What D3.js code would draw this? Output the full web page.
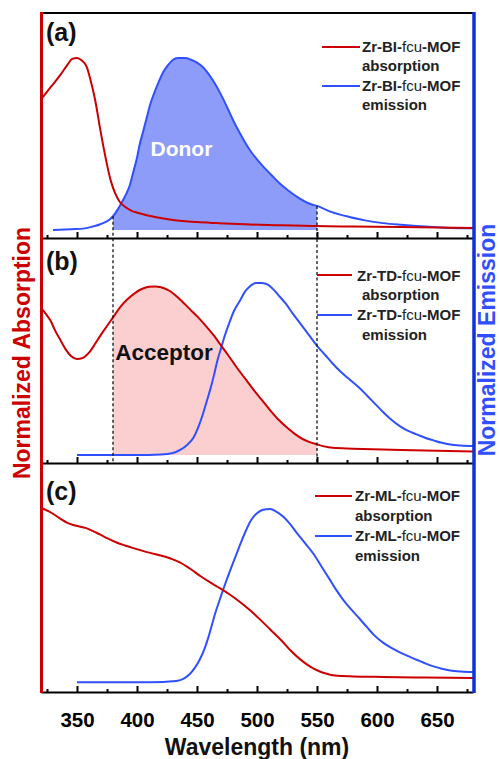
<!DOCTYPE html>
<html>
<head>
<meta charset="utf-8">
<script src="https://cdn.jsdelivr.net/npm/d3@7"></script>
<style>
  html, body { margin: 0; padding: 0; background: #fff; }
  svg { display: block; font-family: "Liberation Sans", Arial, sans-serif; }
</style>
</head>
<body>
<svg id="chart" width="500" height="759"></svg>
<script>
// Wavelength axis ticks (nm)
const majorTicks = [350, 400, 450, 500, 550, 600, 650];
const minorTicks = [325, 375, 425, 475, 525, 575, 625, 675];
const overlapRange = [380, 550];

// Linker names for the three MOFs
const linkers = ["BI", "TD", "ML"];
const panelTags = ["(a)", "(b)", "(c)"];

// Normalized spectra as [wavelength (nm), intensity]
const biAbsorption = [[320,0.76],[328,0.83],[336,0.90],[342,0.96],[346,0.995],[350,1.0],[354,0.985],[358,0.95],[361,0.88],[365,0.76],[370,0.56],[375,0.38],[378,0.29],[382,0.21],[386,0.16],[390,0.135],[396,0.11],[402,0.097],[415,0.075],[430,0.058],[450,0.046],[467,0.04],[490,0.033],[520,0.028],[547,0.023],[580,0.02],[620,0.017],[650,0.014],[680,0.012]];
const biEmission = [[330,0.0],[345,0.005],[355,0.008],[363,0.02],[370,0.035],[377,0.06],[380,0.08],[384,0.12],[388,0.17],[391,0.21],[394,0.26],[397,0.34],[400,0.42],[402,0.49],[405,0.57],[408,0.65],[411,0.73],[414,0.79],[418,0.86],[422,0.92],[426,0.96],[430,0.99],[434,1.0],[440,1.0],[445,0.99],[450,0.973],[455,0.946],[458,0.922],[461,0.893],[465,0.85],[469,0.80],[473,0.745],[477,0.685],[481,0.625],[486,0.56],[490,0.51],[494,0.465],[500,0.41],[505,0.37],[512,0.32],[519,0.27],[526,0.23],[533,0.195],[540,0.165],[545,0.15],[550,0.14],[560,0.11],[570,0.088],[577,0.076],[590,0.056],[605,0.04],[620,0.03],[633,0.023],[647,0.017],[661,0.012],[680,0.01]];

const tdAbsorption = [[320,0.855],[324,0.82],[328,0.78],[332,0.72],[336,0.67],[341,0.61],[345,0.575],[350,0.558],[355,0.565],[360,0.595],[365,0.645],[370,0.70],[375,0.75],[380,0.80],[386,0.86],[392,0.905],[398,0.94],[404,0.965],[410,0.978],[415,0.98],[420,0.975],[427,0.955],[435,0.91],[444,0.848],[451,0.80],[458,0.745],[464,0.695],[469,0.647],[476,0.58],[483,0.51],[490,0.445],[497,0.38],[504,0.32],[511,0.26],[518,0.205],[525,0.16],[532,0.12],[538,0.093],[544,0.075],[550,0.062],[556,0.05],[563,0.042],[580,0.037],[620,0.029],[680,0.02]];
const tdEmission = [[350,0.0],[380,0.0],[400,0.0],[420,0.003],[430,0.012],[436,0.03],[442,0.06],[447,0.10],[451,0.16],[455,0.24],[458,0.31],[461,0.38],[464,0.46],[467,0.55],[470,0.62],[473,0.69],[477,0.77],[481,0.84],[486,0.90],[490,0.95],[494,0.98],[499,1.0],[504,1.0],[509,0.99],[514,0.96],[519,0.92],[524,0.88],[530,0.82],[536,0.765],[543,0.70],[550,0.635],[557,0.58],[563,0.532],[570,0.482],[577,0.44],[585,0.392],[592,0.343],[599,0.293],[605,0.25],[612,0.205],[619,0.168],[626,0.14],[633,0.12],[640,0.10],[647,0.085],[654,0.071],[661,0.061],[670,0.055],[680,0.052]];

const mlAbsorption = [[320,1.0],[327,0.98],[336,0.94],[342,0.915],[347,0.903],[352,0.895],[357,0.887],[362,0.873],[369,0.85],[376,0.826],[383,0.804],[390,0.787],[397,0.772],[404,0.758],[411,0.745],[418,0.733],[425,0.72],[431,0.705],[436,0.69],[445,0.652],[453,0.612],[461,0.577],[469,0.545],[477,0.51],[485,0.47],[494,0.42],[502,0.37],[511,0.31],[520,0.25],[528,0.19],[536,0.14],[544,0.10],[550,0.078],[558,0.058],[565,0.048],[580,0.043],[605,0.04],[640,0.037],[680,0.034]];
const mlEmission = [[350,0.01],[400,0.01],[422,0.012],[430,0.015],[436,0.022],[440,0.035],[444,0.057],[448,0.09],[452,0.135],[456,0.195],[459,0.255],[462,0.325],[465,0.398],[469,0.48],[472,0.54],[475,0.597],[479,0.67],[483,0.74],[487,0.81],[491,0.875],[495,0.93],[500,0.97],[505,0.99],[511,0.995],[516,0.98],[522,0.95],[528,0.905],[533,0.86],[540,0.80],[547,0.74],[554,0.665],[560,0.60],[566,0.535],[572,0.477],[577,0.435],[585,0.375],[592,0.32],[598,0.275],[605,0.235],[612,0.205],[619,0.18],[626,0.158],[633,0.138],[640,0.118],[647,0.10],[654,0.087],[661,0.077],[670,0.071],[680,0.068]];

const absorptionSeries = [biAbsorption, tdAbsorption, mlAbsorption];
const emissionSeries = [biEmission, tdEmission, mlEmission];

// ---- layout ----
const RED = "#cc0000", BLUE = "#3050ff", AXIS_BLUE = "#1030d8";
const x = d3.scaleLinear().domain([320, 680]).range([41, 473]);
const panels = [
  { top: 13,  bottom: 238 },
  { top: 238, bottom: 463 },
  { top: 463, bottom: 692 }
];
panels.forEach(p => {
  p.y = d3.scaleLinear().domain([0, 1]).range([p.bottom - 8, p.top + 45]);
});

const svg = d3.select("#chart");
const lineGen = y => d3.line().x(d => x(d[0])).y(d => y(d[1])).curve(d3.curveMonotoneX);
const areaGen = y => d3.area().x(d => x(d[0])).y0(y(0)).y1(d => y(d[1])).curve(d3.curveMonotoneX);
const inOverlap = d => d[0] >= overlapRange[0] && d[0] <= overlapRange[1];

// Shaded overlap regions: donor emission (a) and acceptor absorption (b)
const pa = panels[0], pb = panels[1];
svg.append("path")
  .datum(biEmission.filter(inOverlap))
  .attr("d", areaGen(pa.y))
  .attr("fill", "#8c9cf8");
svg.append("path")
  .datum(tdAbsorption.filter(inOverlap))
  .attr("d", areaGen(pb.y))
  .attr("fill", "#fbcfcf");

// Spectra
panels.forEach((p, i) => {
  svg.append("path").datum(emissionSeries[i])
    .attr("d", lineGen(p.y)).attr("fill", "none")
    .attr("stroke", BLUE).attr("stroke-width", 2);
  svg.append("path").datum(absorptionSeries[i])
    .attr("d", lineGen(p.y)).attr("fill", "none")
    .attr("stroke", RED).attr("stroke-width", 2);
});

// Dashed guides bounding the overlap window
overlapRange.forEach(w => {
  const pt = biEmission.find(d => d[0] === w);
  svg.append("line")
    .attr("x1", x(w)).attr("x2", x(w))
    .attr("y1", pa.y(pt[1])).attr("y2", pb.bottom)
    .attr("stroke", "#111").attr("stroke-width", 1.3)
    .attr("stroke-dasharray", "3,2.5");
});

// Bottom axis of each panel, ticks pointing inward
panels.forEach((p, i) => {
  const last = i === panels.length - 1;
  const gMajor = svg.append("g").attr("transform", `translate(0,${p.bottom})`)
    .call(d3.axisBottom(x).tickValues(majorTicks)
      .tickSizeInner(-6).tickSizeOuter(0).tickPadding(20)
      .tickFormat(last ? d3.format("d") : () => ""));
  gMajor.select(".domain").attr("stroke", "#000").attr("stroke-width", 2);
  gMajor.selectAll(".tick line").attr("stroke", "#000").attr("stroke-width", 2);
  gMajor.selectAll(".tick text")
    .attr("font-size", 20.5).attr("font-weight", "bold").attr("fill", "#000")
    .attr("font-family", "Liberation Sans, Arial, sans-serif");
  const gMinor = svg.append("g").attr("transform", `translate(0,${p.bottom})`)
    .call(d3.axisBottom(x).tickValues(minorTicks)
      .tickSizeInner(-3).tickSizeOuter(0).tickFormat(() => ""));
  gMinor.select(".domain").remove();
  gMinor.selectAll(".tick line").attr("stroke", "#000").attr("stroke-width", 2);
});

// Frame: top border, red absorption axis, blue emission axis
svg.append("line").attr("x1", 41).attr("x2", 474)
  .attr("y1", 13).attr("y2", 13).attr("stroke", "#000").attr("stroke-width", 2);
svg.append("line").attr("x1", 41.5).attr("x2", 41.5)
  .attr("y1", 12).attr("y2", 693).attr("stroke", RED).attr("stroke-width", 3);
svg.append("line").attr("x1", 474).attr("x2", 474)
  .attr("y1", 12).attr("y2", 693).attr("stroke", AXIS_BLUE).attr("stroke-width", 3.5);

// Panel tags
const tagBase = [41, 270, 500];
panels.forEach((p, i) => {
  svg.append("text").attr("x", 46).attr("y", tagBase[i])
    .attr("font-size", 25).attr("font-weight", "bold").attr("fill", "#111")
    .text(panelTags[i]);
});

// Legends
const legendCfg = [
  { x1: 322, x2: 360, tx: 362, sx: 362, lineY: [47, 86], base: [52, 71, 91, 110] },
  { x1: 317, x2: 352, tx: 357, sx: 362, lineY: [275, 315], base: [281, 300, 320, 340] },
  { x1: 315, x2: 352, tx: 355, sx: 355, lineY: [496, 536], base: [501, 521, 541, 561] }
];
legendCfg.forEach((c, i) => {
  const kinds = [["absorption", RED], ["emission", BLUE]];
  kinds.forEach((k, j) => {
    svg.append("line").attr("x1", c.x1).attr("x2", c.x2)
      .attr("y1", c.lineY[j]).attr("y2", c.lineY[j])
      .attr("stroke", k[1]).attr("stroke-width", 2);
    const t = svg.append("text").attr("x", c.tx).attr("y", c.base[j * 2])
      .attr("font-size", 15).attr("fill", "#222");
    t.append("tspan").attr("font-weight", "bold").text(`Zr-${linkers[i]}-`);
    t.append("tspan").attr("font-weight", "normal").text("fcu");
    t.append("tspan").attr("font-weight", "bold").text("-MOF");
    svg.append("text").attr("x", c.sx).attr("y", c.base[j * 2 + 1])
      .attr("font-size", 15).attr("font-weight", "bold").attr("fill", "#222")
      .text(k[0]);
  });
});

// Overlap annotations
svg.append("text").attr("x", x(437)).attr("y", 156).attr("text-anchor", "middle")
  .attr("font-size", 21).attr("font-weight", "bold").attr("fill", "#fff").text("Donor");
svg.append("text").attr("x", 164).attr("y", 360).attr("text-anchor", "middle")
  .attr("font-size", 22.5).attr("font-weight", "bold").attr("fill", "#111").text("Acceptor");

// Axis titles
svg.append("text").attr("x", 257).attr("y", 755).attr("text-anchor", "middle")
  .attr("font-size", 23).attr("font-weight", "bold").attr("fill", "#111")
  .text("Wavelength (nm)");
svg.append("text").attr("transform", "translate(30,353) rotate(-90)")
  .attr("text-anchor", "middle")
  .attr("font-size", 23).attr("font-weight", "bold").attr("fill", RED)
  .text("Normalized Absorption");
svg.append("text").attr("transform", "translate(495,340) rotate(-90)")
  .attr("text-anchor", "middle")
  .attr("font-size", 23).attr("font-weight", "bold").attr("fill", BLUE)
  .text("Normalized Emission");
</script>
</body>
</html>
